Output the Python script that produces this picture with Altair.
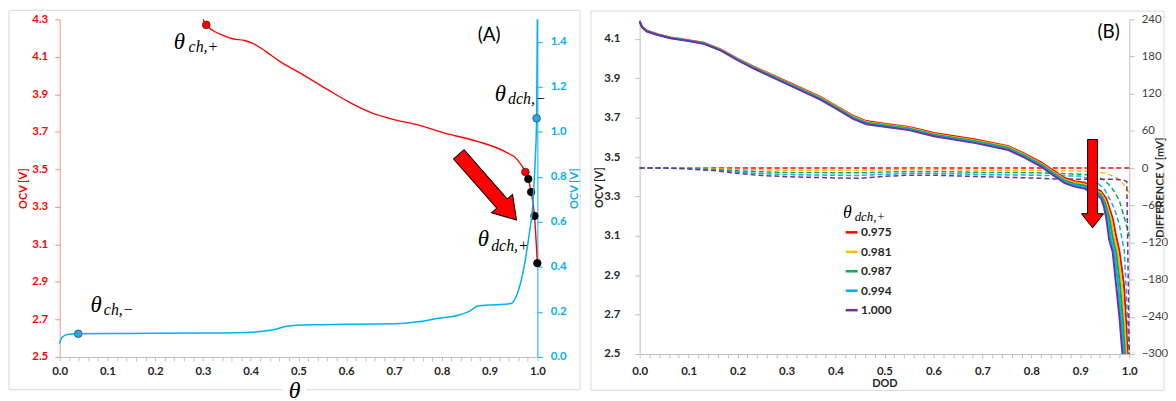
import altair as alt
import pandas as pd

# ======================= Panel (A) data =======================
pos_theta = [0.300, 0.307, 0.321, 0.342, 0.362, 0.387, 0.404, 0.432, 0.460, 0.501,
             0.563, 0.605, 0.647, 0.702, 0.750, 0.806, 0.875, 0.931, 0.958, 0.975,
             0.981, 0.987, 0.994, 1.000]
pos_ocv = [4.300, 4.270, 4.240, 4.214, 4.196, 4.187, 4.172, 4.128, 4.077, 4.017,
           3.922, 3.860, 3.808, 3.764, 3.737, 3.693, 3.649, 3.596, 3.552, 3.486,
           3.449, 3.379, 3.252, 3.000]

neg_theta = [0.000, 0.003, 0.008, 0.016, 0.039, 0.100, 0.200, 0.300, 0.400, 0.430,
             0.450, 0.470, 0.490, 0.520, 0.600, 0.700, 0.750, 0.790, 0.834, 0.861,
             0.875, 0.910, 0.944, 0.958, 0.972, 0.983, 0.990, 0.995, 0.9985, 1.000]
neg_ocv = [0.060, 0.080, 0.092, 0.100, 0.103, 0.104, 0.105, 0.106, 0.110, 0.115,
           0.122, 0.134, 0.140, 0.143, 0.145, 0.147, 0.156, 0.171, 0.185, 0.207,
           0.226, 0.232, 0.237, 0.281, 0.398, 0.546, 0.663, 0.850, 1.060, 1.500]

red_dot_theta = [0.307, 0.975]
red_dot_ocv = [4.270, 3.486]
black_dot_theta = [0.981, 0.987, 0.994, 1.000]
black_dot_ocv = [3.449, 3.379, 3.252, 3.000]
blue_dot_theta = [0.039, 0.9985]
blue_dot_ocv = [0.103, 1.060]

# annotation anchors (data coordinates)
A_sym_theta = [0.239, 0.0644, 0.9106, 0.8753]
A_sym_ocv = [4.143, 2.740, 3.866, 3.089]
A_sub_text = ["ch,+", "ch,\u2212", "dch,\u2212", "dch,+"]
A_sub_theta = [0.270, 0.0925, 0.9387, 0.9033]
A_sub_ocv = [4.125, 2.722, 3.850, 3.064]
A_tag = ["(A)"]
A_tag_theta = [0.899]
A_tag_ocv = [4.218]
A_arrow_theta = [0.896]
A_arrow_ocv = [3.405]

# ======================= Panel (B) data =======================
series = ["0.975", "0.981", "0.987", "0.994", "1.000"]
series_colors = ["#FF0000", "#FFC000", "#00B050", "#00B0F0", "#7030A0"]

grid_dod = [0.000, 0.005, 0.015, 0.037, 0.063, 0.097, 0.131, 0.165, 0.199, 0.233,
            0.300, 0.368, 0.402, 0.436, 0.463, 0.500, 0.550, 0.601, 0.686, 0.753,
            0.787, 0.821, 0.841, 0.868, 0.888, 0.909, 0.922, 0.942]

ocv_0975 = [4.191, 4.161, 4.142, 4.124, 4.108, 4.095, 4.081, 4.048, 4.002, 3.960,
            3.884, 3.807, 3.759, 3.710, 3.683, 3.670, 3.653, 3.622, 3.589, 3.556,
            3.516, 3.472, 3.438, 3.394, 3.378, 3.370, 3.353, 3.327]
ocv_0981 = [4.190, 4.160, 4.141, 4.123, 4.107, 4.094, 4.079, 4.047, 4.000, 3.957,
            3.881, 3.803, 3.756, 3.706, 3.679, 3.666, 3.649, 3.618, 3.585, 3.551,
            3.511, 3.466, 3.432, 3.387, 3.371, 3.362, 3.345, 3.318]
ocv_0987 = [4.190, 4.160, 4.140, 4.122, 4.106, 4.093, 4.078, 4.045, 3.998, 3.955,
            3.878, 3.800, 3.752, 3.702, 3.675, 3.662, 3.645, 3.614, 3.580, 3.546,
            3.506, 3.461, 3.426, 3.381, 3.364, 3.355, 3.337, 3.310]
ocv_0994 = [4.189, 4.160, 4.139, 4.121, 4.105, 4.092, 4.077, 4.044, 3.996, 3.953,
            3.875, 3.797, 3.748, 3.698, 3.671, 3.658, 3.641, 3.610, 3.576, 3.541,
            3.501, 3.456, 3.420, 3.375, 3.357, 3.348, 3.329, 3.302]
ocv_1000 = [4.189, 4.159, 4.138, 4.120, 4.104, 4.091, 4.075, 4.042, 3.994, 3.950,
            3.872, 3.793, 3.745, 3.694, 3.667, 3.654, 3.637, 3.606, 3.571, 3.536,
            3.496, 3.450, 3.414, 3.368, 3.350, 3.340, 3.321, 3.293]

tail_dod_0975 = [0.953, 0.966, 0.973, 0.980, 0.989, 0.993, 0.9965]
tail_dod_0981 = [0.951, 0.9627, 0.9695, 0.9765, 0.985, 0.9897, 0.9939]
tail_dod_0987 = [0.950, 0.9595, 0.966, 0.973, 0.981, 0.9865, 0.9913]
tail_dod_0994 = [0.949, 0.9562, 0.9625, 0.9695, 0.977, 0.9832, 0.9887]
tail_dod_1000 = [0.948, 0.953, 0.959, 0.966, 0.973, 0.980, 0.986]
tail_ocv_0975 = [3.290, 3.190, 3.100, 3.020, 2.854, 2.685, 2.500]
tail_ocv_0981 = [3.280, 3.190, 3.095, 3.020, 2.854, 2.685, 2.500]
tail_ocv_0987 = [3.270, 3.190, 3.090, 3.020, 2.854, 2.685, 2.500]
tail_ocv_0994 = [3.260, 3.190, 3.085, 3.020, 2.854, 2.685, 2.500]
tail_ocv_1000 = [3.250, 3.190, 3.080, 3.020, 2.854, 2.685, 2.500]

diff_dod = [0.00, 0.05, 0.10, 0.15, 0.20, 0.25, 0.30, 0.40, 0.45, 0.50, 0.55, 0.60,
            0.70, 0.80, 0.85, 0.90, 0.93, 0.95, 0.96, 0.97, 0.98, 0.99, 0.995, 1.00]
diff_0975 = [0, 0, 0, 0, 0, 0, 0, 0, 0, 0, 0, 0,
             0, 0, 0, 0, 0, 0, 0, 0, 0, 0, 0, 0]
diff_0981 = [0, 0, 0, -1, -2.5, -3, -3.5, -3.7, -3.8, -3, -2.5, -2.5,
             -3.5, -4, -4.5, -5, -6, -8, -11, -14, -19, -28, -35, -40]
diff_0987 = [0, 0, -0.5, -2, -4.5, -6, -7, -7.5, -7.8, -6.5, -5.5, -5.5,
             -7, -7.5, -8.5, -10, -12, -20, -28, -38, -53, -80, -95, -110]
diff_0994 = [0, 0, -1, -3, -6.5, -9, -10.5, -11.7, -12, -10, -8.5, -8.5,
             -10.5, -11.5, -12.5, -13, -20, -35, -50, -66, -92, -135, -220, -300]
diff_1000 = [0, 0, -1.5, -4, -8.5, -12, -14, -16, -16.5, -13.5, -11.5, -11.5,
             -14, -16, -17.5, -18, -18, -18, -18, -18, -19, -20, -22, -300]

B_sym_dod = [0.4152]
B_sym_ocv = [3.1916]
B_sub_text = ["dch,+"]
B_sub_dod = [0.4391]
B_sub_ocv = [3.175]
B_tag = ["(B)"]
B_tag_dod = [0.958]
B_tag_ocv = [4.137]
B_arrow_dod = [0.925]
B_arrow_ocv = [3.365]

# ======================= tables =======================
dfA_pos = pd.DataFrame({"theta": pos_theta, "ocv": pos_ocv, "i": range(len(pos_theta))})
dfA_neg = pd.DataFrame({"theta": neg_theta, "ocv": neg_ocv, "i": range(len(neg_theta))})
dfA_red = pd.DataFrame({"theta": red_dot_theta, "ocv": red_dot_ocv})
dfA_black = pd.DataFrame({"theta": black_dot_theta, "ocv": black_dot_ocv})
dfA_blue = pd.DataFrame({"theta": blue_dot_theta, "ocv": blue_dot_ocv})
dfA_sym = pd.DataFrame({"theta": A_sym_theta, "ocv": A_sym_ocv, "t": ["\u03b8"] * 4})
dfA_sub = pd.DataFrame({"theta": A_sub_theta, "ocv": A_sub_ocv, "t": A_sub_text})
dfA_tag = pd.DataFrame({"theta": A_tag_theta, "ocv": A_tag_ocv, "t": A_tag})
dfA_arrow = pd.DataFrame({"theta": A_arrow_theta, "ocv": A_arrow_ocv})

solid_main = [ocv_0975, ocv_0981, ocv_0987, ocv_0994, ocv_1000]
solid_tail_dod = [tail_dod_0975, tail_dod_0981, tail_dod_0987, tail_dod_0994, tail_dod_1000]
solid_tail_ocv = [tail_ocv_0975, tail_ocv_0981, tail_ocv_0987, tail_ocv_0994, tail_ocv_1000]
rows = []
for s, main, tdod, tocv in zip(series, solid_main, solid_tail_dod, solid_tail_ocv):
    for k, (d, v) in enumerate(zip(grid_dod + tdod, main + tocv)):
        rows.append({"series": s, "dod": d, "ocv": v, "i": k})
dfB_solid = pd.DataFrame(rows)

color_of = dict(zip(series, series_colors))
rows = []
for s, vals in zip(series, [diff_0975, diff_0981, diff_0987, diff_0994, diff_1000]):
    for k, (d, v) in enumerate(zip(diff_dod, vals)):
        rows.append({"series": s, "hex": color_of[s], "dod": d, "mv": v, "i": k})
dfB_diff = pd.DataFrame(rows)

dfB_sym = pd.DataFrame({"dod": B_sym_dod, "ocv": B_sym_ocv, "t": ["\u03b8"]})
dfB_sub = pd.DataFrame({"dod": B_sub_dod, "ocv": B_sub_ocv, "t": B_sub_text})
dfB_tag = pd.DataFrame({"dod": B_tag_dod, "ocv": B_tag_ocv, "t": B_tag})
dfB_arrow = pd.DataFrame({"dod": B_arrow_dod, "ocv": B_arrow_ocv})

one = pd.DataFrame({"k": [0]})

# ======================= common styling =======================
LBL = "Lato"
SERIF = "Liberation Serif"
ticks02 = [round(i * 0.02, 2) for i in range(51)]
major_expr = "abs(datum.value*10 - round(datum.value*10)) < 0.001 ? format(datum.value, '.1f') : ''"

ARROW_DIAG = "M-0.16,-1L0.16,-1L0.16,0.5L0.32,0.5L0,1L-0.32,0.5L-0.16,0.5Z"
ARROW_DOWN = "M-0.112,-1L0.112,-1L0.112,0.68L0.25,0.68L0,1L-0.25,0.68L-0.112,0.68Z"

# ======================= Panel (A) =======================
xA_scale = alt.Scale(domain=[0, 1], nice=False, zero=False)
xA_axis = alt.Axis(values=ticks02, labelExpr=major_expr, tickSize=4, labelPadding=5,
                   domainColor="#BFBFBF", tickColor="#BFBFBF", labelFont=LBL,
                   labelFontWeight="bold", labelFontSize=11.5, labelColor="#262626",
                   labelOverlap=False, labelFlush=False, grid=False,
                   title="\u03b8", titleFont=SERIF, titleFontStyle="italic",
                   titleFontWeight="normal", titleFontSize=24, titleColor="#000000",
                   titleX=236, titleY=33.5, titleBaseline="middle", titleAlign="center",
                   zindex=1)
xA = alt.X("theta:Q", scale=xA_scale, axis=xA_axis)

yA_scale = alt.Scale(domain=[2.5, 4.3], nice=False, zero=False)
yA_axis = alt.Axis(orient="left", values=[2.5, 2.7, 2.9, 3.1, 3.3, 3.5, 3.7, 3.9, 4.1, 4.3],
                   format=".1f", tickSize=5, labelPadding=7, domainColor="#FF8C8C",
                   tickColor="#FF8C8C", labelColor="#FF0000", labelFont=LBL,
                   labelFontWeight="bold", labelFontSize=11.5, grid=False,
                   title="OCV [V]", titleColor="#FF0000", titleFont=LBL,
                   titleFontWeight="bold", titleFontSize=11, titleAngle=270,
                   titleX=-36, titleY=170, titleBaseline="middle", titleAlign="center")
yA = alt.Y("ocv:Q", scale=yA_scale, axis=yA_axis)

yA2_scale = alt.Scale(domain=[0, 1.5], nice=False, zero=False)
yA2_axis = alt.Axis(orient="right", values=[0, 0.2, 0.4, 0.6, 0.8, 1.0, 1.2, 1.4],
                    format=".1f", tickSize=5, labelPadding=8, domainColor="#00B0F0",
                    tickColor="#00B0F0", labelColor="#00B0F0", labelFont=LBL,
                    labelFontWeight="bold", labelFontSize=11.5, grid=False,
                    title="OCV [V]", titleColor="#00B0F0", titleFont=LBL,
                    titleFontWeight="bold", titleFontSize=11, titleAngle=270,
                    titleX=37, titleY=170, titleBaseline="middle", titleAlign="center")
yA2 = alt.Y("ocv:Q", scale=yA2_scale, axis=yA2_axis)

borderA = alt.Chart(one).mark_rect(fill="white", fillOpacity=0, stroke="#D9D9D9", strokeWidth=1).encode(
    x=alt.value(-51), x2=alt.value(524), y=alt.value(-9), y2=alt.value(373))
gapA = alt.Chart(one).mark_rect(fill="white", stroke=None).encode(
    x=alt.value(224), x2=alt.value(248), y=alt.value(369), y2=alt.value(373.5))

pos_line = alt.Chart(dfA_pos).mark_line(color="#FF0000", strokeWidth=1.4, interpolate="monotone").encode(
    x=xA, y=yA, order="i:Q")
red_dots = alt.Chart(dfA_red).mark_point(shape="circle", filled=True, fill="#FF0000", stroke="#5a1a1a",
                                         strokeWidth=0.8, size=60, opacity=1).encode(x=xA, y=yA)
black_dots = alt.Chart(dfA_black).mark_point(shape="circle", filled=True, fill="#000000", stroke="#000000",
                                             strokeWidth=0.8, size=56, opacity=1).encode(x=xA, y=yA)
A_sym = alt.Chart(dfA_sym).mark_text(font=SERIF, fontStyle="italic", fontSize=23, align="left",
                                     baseline="alphabetic", color="#000000").encode(
    x=xA, y=yA, text="t:N")
A_sub = alt.Chart(dfA_sub).mark_text(font=SERIF, fontStyle="italic", fontSize=16, align="left",
                                     baseline="alphabetic", color="#000000").encode(
    x=xA, y=yA, text="t:N")
A_tagm = alt.Chart(dfA_tag).mark_text(font=LBL, fontSize=19, align="center", baseline="middle",
                                      color="#000000").encode(x=xA, y=yA, text="t:N")
A_arrowm = alt.Chart(dfA_arrow).mark_point(shape=ARROW_DIAG, filled=True, fill="#FF0000", stroke="#000000",
                                           strokeWidth=1, size=7744, angle=318.7, opacity=1).encode(
    x=xA, y=yA)

groupA_left = alt.layer(borderA, gapA, pos_line, A_arrowm, red_dots, black_dots, A_sym, A_sub, A_tagm)

neg_line = alt.Chart(dfA_neg).mark_line(color="#00B0F0", strokeWidth=1.5, interpolate="monotone").encode(
    x=xA, y=yA2, order="i:Q")
blue_dots = alt.Chart(dfA_blue).mark_point(shape="circle", filled=True, fill="#2AA7DE", stroke="#1F4E79",
                                           strokeWidth=0.8, size=60, opacity=1).encode(x=xA, y=yA2)
groupA_right = alt.layer(neg_line, blue_dots)

panelA = alt.layer(groupA_left, groupA_right).resolve_scale(y="independent").properties(
    width=481, height=340)

# ======================= Panel (B) =======================
xB_scale = alt.Scale(domain=[0, 1], nice=False, zero=False)
xB_axis = alt.Axis(values=ticks02, labelExpr=major_expr, tickSize=4, labelPadding=8,
                   domainColor="#BFBFBF", tickColor="#BFBFBF", labelFont=LBL,
                   labelFontWeight="bold", labelFontSize=11.5, labelColor="#262626",
                   labelOverlap=False, labelFlush=False, grid=False,
                   title="DOD", titleFont=LBL, titleFontWeight="bold", titleFontSize=11,
                   titleColor="#262626", titleY=30, titleBaseline="middle", titleAlign="center")
xB = alt.X("dod:Q", scale=xB_scale, axis=xB_axis)

yB_scale = alt.Scale(domain=[2.5, 4.2], nice=False, zero=False)
yB_axis = alt.Axis(orient="left", values=[2.5, 2.7, 2.9, 3.1, 3.3, 3.5, 3.7, 3.9, 4.1],
                   format=".1f", tickSize=5, labelPadding=15, domainColor="#BFBFBF",
                   tickColor="#BFBFBF", labelColor="#262626", labelFont=LBL,
                   labelFontWeight="bold", labelFontSize=11.5, grid=False,
                   title="OCV [V]", titleColor="#262626", titleFont=LBL,
                   titleFontWeight="bold", titleFontSize=11, titleAngle=270,
                   titleX=-40, titleY=169, titleBaseline="middle", titleAlign="center")
yB = alt.Y("ocv:Q", scale=yB_scale, axis=yB_axis)

yB2_scale = alt.Scale(domain=[-300, 240], nice=False, zero=False)
yB2_axis = alt.Axis(orient="right", values=[-300, -240, -180, -120, -60, 0, 60, 120, 180, 240],
                    format="d", tickSize=5, labelPadding=7, domainColor="#BFBFBF",
                    tickColor="#BFBFBF", labelColor="#404040", labelFont=LBL,
                    labelFontWeight="normal", labelFontSize=11.5, grid=False,
                    title="DIFFERENCE V [mV]", titleColor="#262626", titleFont=LBL,
                    titleFontWeight="bold", titleFontSize=11, titleAngle=270,
                    titleX=31, titleY=169, titleBaseline="middle", titleAlign="center")
yB2 = alt.Y("mv:Q", scale=yB2_scale, axis=yB2_axis)

color_scale = alt.Scale(domain=series, range=series_colors)

borderB = alt.Chart(one).mark_rect(fill="white", fillOpacity=0, stroke="#D9D9D9", strokeWidth=1).encode(
    x=alt.value(-49), x2=alt.value(528), y=alt.value(-8.3), y2=alt.value(373.7))

diff_lines = alt.Chart(dfB_diff).mark_line(strokeWidth=1.5, strokeDash=[5, 3]).encode(
    x=xB, y=yB2, order="i:Q",
    stroke=alt.Stroke("hex:N", scale=None),
    detail="series:N")
groupB_right = alt.layer(borderB, diff_lines)

solid_lines = alt.Chart(dfB_solid).mark_line(strokeWidth=2).encode(
    x=xB, y=yB, order="i:Q",
    color=alt.Color("series:N", scale=color_scale, sort=series,
                    legend=alt.Legend(orient="none", legendX=790, legendY=207, title=None,
                                      symbolType="stroke", symbolSize=144, symbolStrokeWidth=2.5,
                                      labelFont=LBL, labelFontWeight="bold", labelFontSize=12,
                                      labelColor="#262626", rowPadding=5.6, labelOffset=2,
                                      padding=0)))
B_sym = alt.Chart(dfB_sym).mark_text(font=SERIF, fontStyle="italic", fontSize=18, align="left",
                                     baseline="alphabetic", color="#000000").encode(
    x=xB, y=yB, text="t:N")
B_sub = alt.Chart(dfB_sub).mark_text(font=SERIF, fontStyle="italic", fontSize=13, align="left",
                                     baseline="alphabetic", color="#000000").encode(
    x=xB, y=yB, text="t:N")
B_tagm = alt.Chart(dfB_tag).mark_text(font=LBL, fontSize=19, align="center", baseline="middle",
                                      color="#000000").encode(x=xB, y=yB, text="t:N")
B_arrowm = alt.Chart(dfB_arrow).mark_point(shape=ARROW_DOWN, filled=True, fill="#FF0000", stroke="#000000",
                                           strokeWidth=1, size=7921, opacity=1).encode(
    x=xB, y=yB)
groupB_left = alt.layer(solid_lines, B_arrowm, B_sym, B_sub, B_tagm)

panelB = alt.layer(groupB_right, groupB_left).resolve_scale(y="independent").properties(
    width=493, height=337)

chart = alt.hconcat(panelA, panelB, spacing=9).properties(padding=0).configure_view(
    stroke=None).configure_axis(grid=False)

chart.save("out.html", embed_options={"renderer": "svg", "actions": False})
